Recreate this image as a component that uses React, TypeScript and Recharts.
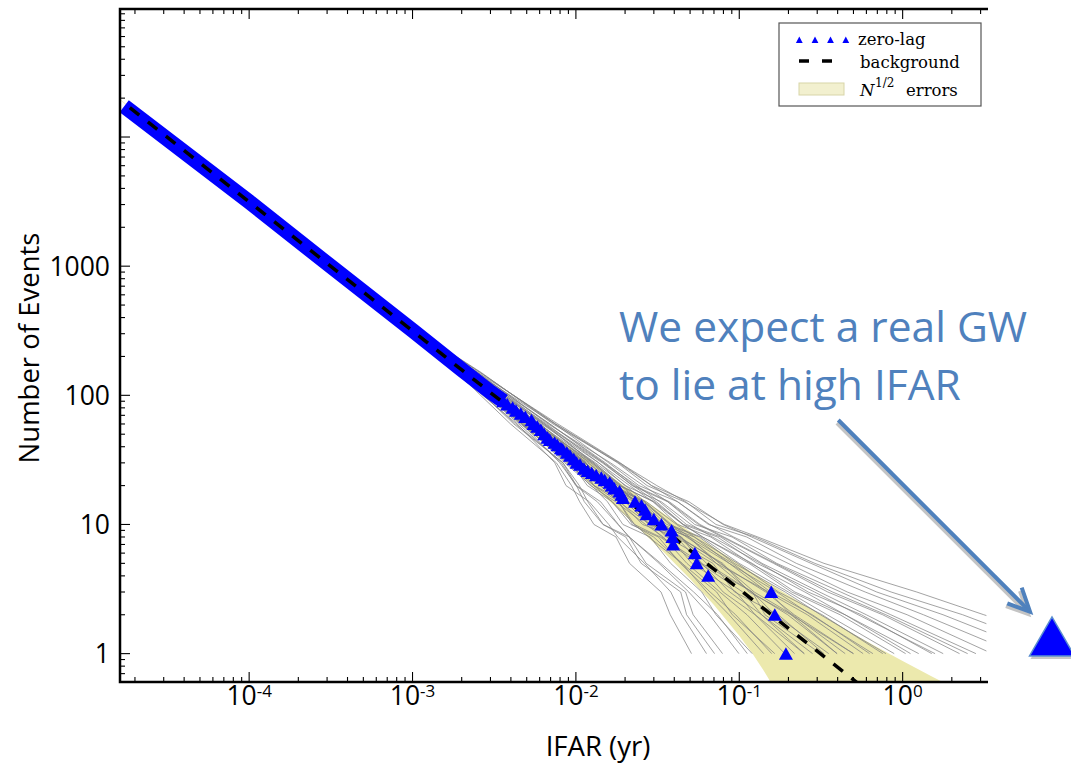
import React from 'react';
import { ComposedChart, XAxis, YAxis, Line, Area, Scatter, ReferenceDot } from 'recharts';

const W = 1071;
const H = 763;

// plot frame (pixels) — used for margins and the hand-drawn spines
const PLOT_LEFT = 120;
const PLOT_TOP = 9;
const PLOT_RIGHT = 988;
const PLOT_BOTTOM = 682;

// ---- axes ----
const ifarDomain: [number, number] = [1.62e-5, 3.33];
const countDomain: [number, number] = [0.603, 98000];

const xMajorTicks = [1e-4, 1e-3, 1e-2, 1e-1, 1];
const xMajorExponents = ['-4', '-3', '-2', '-1', '0'];
const yMajorTicks = [1, 10, 100, 1000, 10000];
const yMajorLabels = ['1', '10', '100', '1000', ''];

function minorTicks(domain: [number, number], decades: number[]) {
  const out: number[] = [];
  for (const e of decades) {
    for (let k = 2; k <= 9; k++) {
      const v = k * Math.pow(10, e);
      if (v > domain[0] && v < domain[1]) out.push(v);
    }
  }
  return out;
}
const xMinorTicks = minorTicks(ifarDomain, [-5, -4, -3, -2, -1, 0]);
const yMinorTicks = minorTicks(countDomain, [-1, 0, 1, 2, 3, 4]);
const xAllTicks = [...xMajorTicks, ...xMinorTicks].sort((a, b) => a - b);
const yAllTicks = [...yMajorTicks, ...yMinorTicks].sort((a, b) => a - b);

// ---- background (dashed) ----
const backgroundIfar = [1.86e-5, 1e-4, 1e-3, 1e-2, 1e-1, 0.55];
const backgroundCount = [16900, 3150, 315, 31.5, 3.15, 0.57];

// ---- zero-lag: dense part (solid band) ----
const zeroLagBandIfar = [1.72e-5, 1e-4, 3e-4, 1e-3, 2e-3, 3e-3, 3.6e-3];
const zeroLagBandCount = [17300, 3150, 1050, 318, 158, 106, 90];

// ---- zero-lag: individual triangles ----
const zeroLagIfar = [0.0036, 0.0038, 0.0041, 0.0043, 0.0046, 0.0049, 0.00535, 0.0055, 0.0058, 0.0061, 0.0064, 0.0067, 0.00692, 0.0074, 0.0077, 0.0081, 0.0083, 0.0088, 0.0092, 0.0097, 0.0101, 0.0106, 0.0112, 0.0118, 0.0125, 0.0133, 0.0143, 0.015, 0.0161, 0.0166, 0.0172, 0.0185, 0.019, 0.0194, 0.023, 0.0252, 0.0265, 0.0271, 0.03, 0.0334, 0.0385, 0.039, 0.0394, 0.0535, 0.0549, 0.0645, 0.157, 0.165, 0.193];
const zeroLagCount = [90, 85, 80, 76, 72, 68, 64, 60, 57, 54, 50, 47, 45, 43, 41, 39, 38, 36, 34, 32, 30, 29, 27, 26, 25, 24, 23, 22, 21, 20, 19, 18, 17, 16, 15, 14, 13, 12, 11, 10, 9, 8, 7, 6, 5, 4, 3, 2, 1];

// ---- N^1/2 error band ----
const errorIfar = [1.6e-5, 1e-4, 1e-3, 3e-3, 1e-2, 2e-2, 3.5e-2, 5e-2, 7e-2, 0.1, 0.12, 0.14, 0.15, 0.17, 0.2, 0.25, 0.3, 0.4, 0.5, 0.7, 1.0, 1.5, 2.0, 3.4];
const errorLow = [19550, 3094, 297, 94.8, 25.9, 11.8, 6.0, 3.79, 2.38, 1.375, 1.005, 0.75, 0.651, 0.492, 0.32, 0.138, 0.025, 0.01, 0.01, 0.01, 0.01, 0.01, 0.01, 0.01];
const errorHigh = [19830, 3206, 333, 115, 37.1, 19.7, 12.0, 8.81, 6.62, 4.93, 4.245, 3.75, 3.55, 3.21, 2.83, 2.38, 2.08, 1.68, 1.42, 1.12, 0.876, 0.668, 0.555, 0.398];

// ---- time-slide background curves (gray) ----
const slideCounts = [400, 150, 60, 30, 20, 15, 10, 8, 5, 3, 2, 1];
const slideIfar: number[][] = [
  [0.00079, 0.00187, 0.00398, 0.0076, 0.0094, 0.01054, 0.0129, 0.0176, 0.0213, 0.0332, 0.0378, 0.051],
  [0.00079, 0.00183, 0.00437, 0.00743, 0.0087, 0.01207, 0.0159, 0.018, 0.0263, 0.0381, 0.0444, 0.063],
  [0.00079, 0.00192, 0.00427, 0.00834, 0.0105, 0.01182, 0.0147, 0.0212, 0.0269, 0.0469, 0.0522, 0.079],
  [0.00079, 0.00196, 0.00447, 0.00815, 0.00998, 0.01352, 0.0181, 0.0212, 0.0323, 0.0491, 0.0657, 0.0995],
  [0.00079, 0.00187, 0.00479, 0.00854, 0.01246, 0.0156, 0.0194, 0.0285, 0.038, 0.059, 0.072, 0.12],
  [0.00079, 0.002, 0.00457, 0.00936, 0.01175, 0.0167, 0.0229, 0.0279, 0.0446, 0.0633, 0.0866, 0.141],
  [0.00079, 0.0021, 0.00468, 0.00894, 0.0141, 0.0183, 0.0222, 0.0299, 0.0446, 0.0727, 0.0906, 0.165],
  [0.00079, 0.00196, 0.00501, 0.00915, 0.01227, 0.0175, 0.0267, 0.0343, 0.0478, 0.076, 0.1115, 0.19],
  [0.00079, 0.00215, 0.00479, 0.01003, 0.0141, 0.0183, 0.0228, 0.0328, 0.0561, 0.0797, 0.125, 0.218],
  [0.00079, 0.002, 0.00537, 0.00958, 0.0129, 0.0201, 0.028, 0.0335, 0.0588, 0.0874, 0.137, 0.25],
  [0.00079, 0.0022, 0.0049, 0.0105, 0.0154, 0.0187, 0.0256, 0.0413, 0.0575, 0.105, 0.137, 0.281],
  [0.00079, 0.0021, 0.00563, 0.0098, 0.0156, 0.0225, 0.0298, 0.0359, 0.069, 0.0936, 0.173, 0.33],
  [0.00079, 0.00215, 0.00525, 0.0115, 0.01476, 0.021, 0.0335, 0.0442, 0.063, 0.12, 0.165, 0.353],
  [0.00079, 0.00225, 0.00525, 0.01126, 0.01744, 0.0236, 0.0293, 0.0413, 0.0723, 0.118, 0.198, 0.397],
  [0.00079, 0.0021, 0.00575, 0.011, 0.015, 0.0241, 0.0342, 0.0432, 0.0775, 0.1234, 0.2125, 0.445],
  [0.00079, 0.00225, 0.0055, 0.0118, 0.0181, 0.023, 0.0321, 0.0485, 0.0757, 0.145, 0.217, 0.5],
  [0.00079, 0.00215, 0.00589, 0.01126, 0.01653, 0.0258, 0.0378, 0.0474, 0.0869, 0.148, 0.261, 0.573],
  [0.00079, 0.0023, 0.00563, 0.0126, 0.0187, 0.0247, 0.0337, 0.0531, 0.0869, 0.17, 0.274, 0.658],
  [0.00079, 0.0022, 0.00603, 0.01205, 0.01696, 0.027, 0.0413, 0.0531, 0.0976, 0.174, 0.322, 0.756],
  [0.00079, 0.00236, 0.00589, 0.0132, 0.0202, 0.0264, 0.0373, 0.0583, 0.0999, 0.2, 0.345, 0.888],
  [0.00079, 0.00225, 0.00631, 0.0129, 0.01879, 0.0297, 0.0451, 0.0597, 0.1147, 0.2095, 0.414, 1.043],
  [0.00079, 0.00241, 0.00617, 0.0138, 0.0213, 0.0297, 0.0419, 0.0669, 0.1173, 0.252, 0.444, 1.254],
  [0.00079, 0.0023, 0.00661, 0.0138, 0.01994, 0.0333, 0.0506, 0.0685, 0.1347, 0.264, 0.559, 1.508],
  [0.00079, 0.00247, 0.00646, 0.0148, 0.0235, 0.0325, 0.0475, 0.0768, 0.1378, 0.31, 0.599, 1.771],
  [0.00079, 0.00236, 0.00692, 0.0148, 0.0221, 0.0365, 0.0562, 0.0786, 0.162, 0.348, 0.754, 2.23],
  [0.00079, 0.00252, 0.00676, 0.0163, 0.0259, 0.0365, 0.0534, 0.0903, 0.1696, 0.418, 0.846, 2.81],
  [0.00079, 0.00241, 0.00742, 0.0159, 0.0243, 0.0419, 0.066, 0.0924, 0.199, 0.458, 1.065, 3.53],
  [0.00079, 0.00264, 0.00724, 0.01825, 0.029, 0.0419, 0.0648, 0.111, 0.2235, 0.59, 1.34, 4.99],
  [0.00079, 0.00252, 0.00776, 0.0187, 0.0291, 0.0492, 0.0796, 0.119, 0.275, 0.694, 1.767, 7.05],
  [0.00079, 0.0026, 0.0075, 0.0185, 0.0313, 0.047, 0.072, 0.125, 0.29, 0.85, 2.33, 9.96],
  [0.00079, 0.0026, 0.0075, 0.018, 0.0273, 0.046, 0.0812, 0.13, 0.33, 1.22, 3.14, 17.7],
  [0.00079, 0.00192, 0.00501, 0.00874, 0.0129, 0.01667, 0.0217, 0.032, 0.0436, 0.0663, 0.095, 0.158],
  [0.00079, 0.0022, 0.00468, 0.0105, 0.0129, 0.0183, 0.0283, 0.0376, 0.0512, 0.0958, 0.125, 0.25],
  [0.00079, 0.002, 0.0055, 0.0115, 0.0158, 0.02, 0.0285, 0.0442, 0.0588, 0.1205, 0.1437, 0.315],
  [0.00079, 0.0021, 0.00575, 0.01074, 0.01547, 0.0247, 0.0345, 0.0422, 0.0793, 0.115, 0.2076, 0.397],
  [0.00079, 0.0023, 0.00525, 0.01234, 0.018, 0.0225, 0.0314, 0.0496, 0.0723, 0.1517, 0.2076, 0.5],
  [0.00079, 0.00215, 0.00603, 0.0115, 0.0162, 0.0264, 0.0384, 0.0496, 0.091, 0.1553, 0.28, 0.628],
  [0.00079, 0.00236, 0.00563, 0.0129, 0.0191, 0.0252, 0.036, 0.0569, 0.0932, 0.191, 0.314, 0.791],
  [0.00079, 0.0022, 0.00646, 0.01262, 0.01838, 0.0303, 0.0455, 0.0597, 0.12, 0.219, 0.444, 1.118],
  [0.00079, 0.00241, 0.00631, 0.0145, 0.0223, 0.0311, 0.0454, 0.0734, 0.1286, 0.289, 0.534, 1.579],
  [0.00079, 0.00247, 0.00692, 0.01517, 0.0228, 0.0373, 0.0575, 0.0805, 0.1657, 0.3725, 0.789, 2.5],
  [0.00079, 0.00183, 0.00468, 0.00797, 0.0101, 0.01417, 0.0182, 0.0212, 0.0331, 0.0526, 0.0737, 0.112],
  [0.00079, 0.00196, 0.00417, 0.00834, 0.01008, 0.01126, 0.01463, 0.0202, 0.0251, 0.0438, 0.0476, 0.0706],
];

// hypothetical loud event drawn on the slide
const gwCandidate = { ifar: 8.21, count: 1.36 };

// ---- build tables ----
const zip = (xs: number[], ys: number[]) => xs.map((x, i) => ({ x, y: ys[i] }));
const backgroundData = zip(backgroundIfar, backgroundCount);
const bandData = zip(zeroLagBandIfar, zeroLagBandCount);
const zeroLagData = zip(zeroLagIfar, zeroLagCount);
const errorData = errorIfar.map((x, i) => ({ x, range: [errorLow[i], errorHigh[i]] }));
const slideData = slideIfar.map((row) => row.map((x, i) => ({ x, y: slideCounts[i] })));

const FONT = "'Open Sans', sans-serif";
const SERIF = "'DejaVu Serif', serif";
const BLUE_TEXT = '#4f81bd';

const majorIndex = (v: number, majors: number[]) => majors.findIndex((m) => Math.abs(v / m - 1) < 1e-6);

const BottomTick = (props: any) => {
  const { x, y, payload } = props;
  const i = majorIndex(payload.value, xMajorTicks);
  const len = i >= 0 ? 10 : 5;
  return (
    <g>
      <line x1={x} x2={x} y1={y} y2={y - len} stroke="#000" strokeWidth={1.1} />
      {i >= 0 && (
        <text x={x} y={y + 23} textAnchor="middle" fontFamily={FONT} fontSize={26.5} fill="#000">
          10
          <tspan dy={-8} fontSize={17}>{xMajorExponents[i]}</tspan>
        </text>
      )}
    </g>
  );
};

const TopTick = (props: any) => {
  const { x, y, payload } = props;
  const i = majorIndex(payload.value, xMajorTicks);
  const len = i >= 0 ? 10 : 5;
  return <line x1={x} x2={x} y1={y} y2={y + len} stroke="#000" strokeWidth={1.1} />;
};

const LeftTick = (props: any) => {
  const { x, y, payload } = props;
  const i = majorIndex(payload.value, yMajorTicks);
  const len = i >= 0 ? 10 : 5;
  return (
    <g>
      <line x1={x} x2={x + len} y1={y} y2={y} stroke="#000" strokeWidth={1.1} />
      {i >= 0 && yMajorLabels[i] !== '' && (
        <text x={x - 10} y={y + 9.5} textAnchor="end" fontFamily={FONT} fontSize={26.5} fill="#000">
          {yMajorLabels[i]}
        </text>
      )}
    </g>
  );
};

const TriangleMarker = (props: any) => {
  const { cx, cy } = props;
  if (cx == null || cy == null) return null;
  return <polygon points={`${cx},${cy - 6.5} ${cx - 7},${cy + 6} ${cx + 7},${cy + 6}`} fill="#0000ff" />;
};

const BigTriangle = (props: any) => {
  const { cx, cy } = props;
  if (cx == null || cy == null) return null;
  const pts = (dx: number, dy: number) =>
    `${cx + dx},${cy - 19.5 + dy} ${cx - 22.5 + dx},${cy + 19.5 + dy} ${cx + 22.5 + dx},${cy + 19.5 + dy}`;
  return (
    <g>
      <polygon points={pts(1, 3)} fill="#c8c8c8" />
      <polygon points={pts(0, 0)} fill="#0000ff" stroke="#5b8fd0" strokeWidth={1.5} />
    </g>
  );
};

export default function App() {
  return (
    <div style={{ position: 'absolute', left: 0, top: 0, width: W, height: H, background: '#fff' }}>
      <ComposedChart
        width={W}
        height={H}
        margin={{ top: PLOT_TOP - 1, right: W - PLOT_RIGHT, bottom: H - PLOT_BOTTOM - 30, left: PLOT_LEFT - 60 }}
      >
        <Area
          data={errorData}
          dataKey="range"
          stroke="none"
          fill="#ece9ad"
          fillOpacity={1}
          isAnimationActive={false}
          activeDot={false}
        />
        {slideData.map((d, k) => (
          <Line
            key={`slide-${k}`}
            data={d}
            dataKey="y"
            stroke="#808080"
            strokeOpacity={0.72}
            strokeWidth={1}
            dot={false}
            activeDot={false}
            isAnimationActive={false}
          />
        ))}
        <Line
          data={bandData}
          dataKey="y"
          stroke="#0000ff"
          strokeWidth={15}
          dot={false}
          activeDot={false}
          isAnimationActive={false}
        />
        <Scatter data={zeroLagData} dataKey="y" shape={TriangleMarker} isAnimationActive={false} />
        <Line
          data={backgroundData}
          dataKey="y"
          stroke="#000"
          strokeWidth={3.5}
          strokeDasharray="12 11"
          dot={false}
          activeDot={false}
          isAnimationActive={false}
        />
        <ReferenceDot x={gwCandidate.ifar} y={gwCandidate.count} ifOverflow="visible" shape={BigTriangle} />
        <XAxis
          dataKey="x"
          type="number"
          scale="log"
          domain={ifarDomain}
          allowDataOverflow
          ticks={xAllTicks}
          interval={0}
          tick={BottomTick}
          tickLine={false}
          tickSize={0}
          tickMargin={0}
          height={30}
          axisLine={false}
        />
        <XAxis
          xAxisId="top"
          orientation="top"
          dataKey="x"
          type="number"
          scale="log"
          domain={ifarDomain}
          allowDataOverflow
          ticks={xAllTicks}
          interval={0}
          tick={TopTick}
          tickLine={false}
          tickSize={0}
          tickMargin={0}
          height={1}
          axisLine={false}
        />
        <YAxis
          dataKey="y"
          type="number"
          scale="log"
          domain={countDomain}
          allowDataOverflow
          ticks={yAllTicks}
          interval={0}
          tick={LeftTick}
          tickLine={false}
          tickSize={0}
          tickMargin={0}
          width={60}
          axisLine={false}
        />
      </ComposedChart>

      <svg
        width={W}
        height={H}
        style={{ position: 'absolute', left: 0, top: 0, pointerEvents: 'none' }}
      >
        {/* keep the open right side of the frame clean (the original has no right spine) */}
        <rect x={PLOT_RIGHT - 1.6} y={PLOT_TOP + 1.3} width={6} height={PLOT_BOTTOM - PLOT_TOP - 2.6} fill="#fff" />

        {/* spines: top, left, bottom */}
        <polyline
          points={`${PLOT_RIGHT},${PLOT_TOP} ${PLOT_LEFT},${PLOT_TOP} ${PLOT_LEFT},${PLOT_BOTTOM} ${PLOT_RIGHT},${PLOT_BOTTOM}`}
          fill="none"
          stroke="#000"
          strokeWidth={2.5}
        />

        {/* legend */}
        <rect x={779} y={23} width={202} height={83} fill="#fff" stroke="#555" strokeWidth={1.2} />
        {[799.3, 815, 830.5, 845.8].map((cx) => (
          <polygon key={cx} points={`${cx},${36.5} ${cx - 3.4},${43} ${cx + 3.4},${43}`} fill="#0000ff" />
        ))}
        <text x={858} y={45} fontFamily={SERIF} fontSize={16.5} fill="#000">zero-lag</text>
        <line x1={799} x2={834} y1={61} y2={61} stroke="#000" strokeWidth={3.5} strokeDasharray="10 13" />
        <text x={860} y={68} fontFamily={SERIF} fontSize={16.5} fill="#000">background</text>
        <rect x={799} y={83} width={45} height={12} fill="#f2f0cf" stroke="#d8d5a8" strokeWidth={1} />
        <text x={860} y={95.5} fontFamily={SERIF} fontSize={16.5} fontStyle="italic" fill="#000">N</text>
        <text x={875} y={87} fontFamily={SERIF} fontSize={12} fill="#000">1/2</text>
        <text x={906} y={95.5} fontFamily={SERIF} fontSize={16.5} fill="#000">errors</text>

        {/* axis titles */}
        <text
          transform="translate(38.5,348) rotate(-90)"
          textAnchor="middle"
          fontFamily={FONT}
          fontSize={27.5}
          fill="#000"
        >
          Number of Events
        </text>
        <text x={598} y={756} textAnchor="middle" fontFamily={FONT} fontSize={27.5} fill="#000">
          IFAR (yr)
        </text>

        {/* annotation */}
        <text x={619} y={341.7} fontFamily={FONT} fontSize={42.5} fill={BLUE_TEXT}>We expect a real GW</text>
        <text x={619} y={400} fontFamily={FONT} fontSize={42.5} fill={BLUE_TEXT}>to lie at high IFAR</text>
        <line x1={837} y1={423} x2={1027} y2={613} stroke="#c4c4c4" strokeWidth={4} />
        <polyline points="1006,606 1028,614 1020,591" fill="none" stroke="#c4c4c4" strokeWidth={4} />
        <line x1={838.3} y1={420} x2={1029} y2={610.7} stroke="#4f81bd" strokeWidth={4} />
        <polyline points="1007.3,603.3 1030,611.7 1021.7,587.7" fill="none" stroke="#4f81bd" strokeWidth={4} />
      </svg>
    </div>
  );
}
